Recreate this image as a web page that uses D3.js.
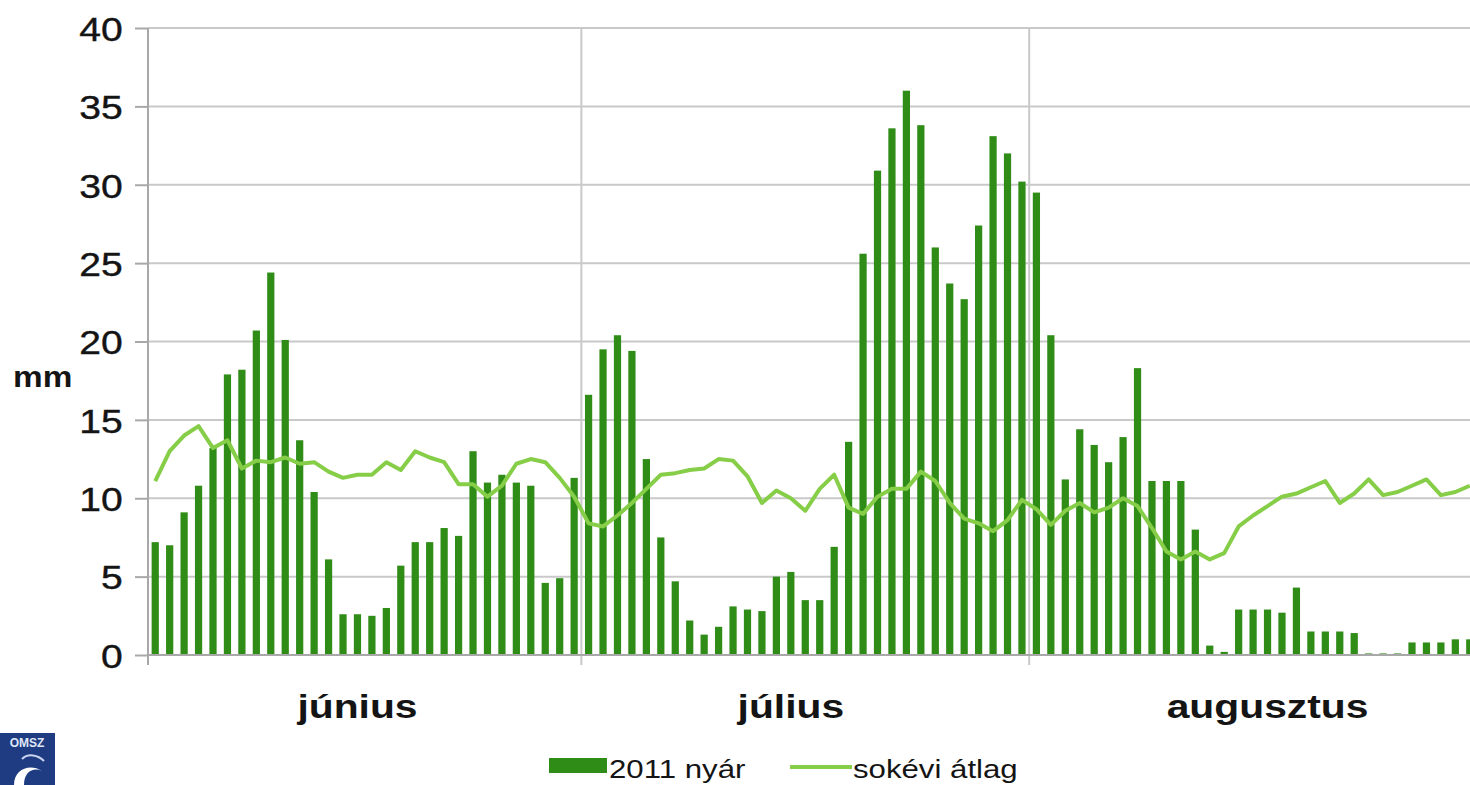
<!DOCTYPE html>
<html>
<head>
<meta charset="utf-8">
<script src="https://cdn.jsdelivr.net/npm/d3@7"></script>
<style>
  body { margin: 0; background: #fff; }
  svg { display: block; font-family: "Liberation Sans", Arial, sans-serif; }
</style>
</head>
<body>
<svg id="chart" width="1470" height="785"></svg>
<script>
// napi csapadek, 2011 nyar vs sokevi atlag (mm)
const months = ['június', 'július', 'augusztus'];
const monthDays = [30, 31, 31];
const labelDay = [15, 15, 17];   // which day of the month the label sits over

const rain2011 = [
  // junius
  7.2, 7.0, 9.1, 10.8, 13.2, 17.9, 18.2, 20.7, 24.4, 20.1,
  13.7, 10.4, 6.1, 2.6, 2.6, 2.5, 3.0, 5.7, 7.2, 7.2,
  8.1, 7.6, 13.0, 11.0, 11.5, 11.0, 10.8, 4.6, 4.9, 11.3,
  // julius
  16.6, 19.5, 20.4, 19.4, 12.5, 7.5, 4.7, 2.2, 1.3, 1.8,
  3.1, 2.9, 2.8, 5.0, 5.3, 3.5, 3.5, 6.9, 13.6, 25.6,
  30.9, 33.6, 36.0, 33.8, 26.0, 23.7, 22.7, 27.4, 33.1, 32.0, 30.2,
  // augusztus
  29.5, 20.4, 11.2, 14.4, 13.4, 12.3, 13.9, 18.3, 11.1, 11.1,
  11.1, 8.0, 0.6, 0.2, 2.9, 2.9, 2.9, 2.7, 4.3, 1.5,
  1.5, 1.5, 1.4, 0.1, 0.1, 0.1, 0.8, 0.8, 0.8, 1.0, 1.0
];

const avgRain = [
  11.1, 13.0, 14.0, 14.6, 13.2, 13.7, 11.9, 12.4, 12.3, 12.6,
  12.2, 12.3, 11.7, 11.3, 11.5, 11.5, 12.3, 11.8, 13.0, 12.6,
  12.3, 10.9, 10.9, 10.1, 10.8, 12.2, 12.5, 12.3, 11.3, 10.1,
  8.4, 8.2, 8.9, 9.7, 10.6, 11.5, 11.6, 11.8, 11.9, 12.5,
  12.4, 11.4, 9.7, 10.5, 10.0, 9.2, 10.6, 11.5, 9.4, 9.0,
  10.1, 10.6, 10.6, 11.7, 11.1, 9.7, 8.7, 8.4, 7.9, 8.6, 9.9,
  9.3, 8.3, 9.2, 9.7, 9.1, 9.4, 10.0, 9.5, 8.1, 6.6,
  6.1, 6.6, 6.1, 6.5, 8.2, 8.9, 9.5, 10.1, 10.3, 10.7,
  11.1, 9.7, 10.3, 11.2, 10.2, 10.4, 10.8, 11.2, 10.2, 10.4, 10.8
];

const yTicks = [0, 5, 10, 15, 20, 25, 30, 35, 40];
const legendNames = ['2011 nyár', 'sokévi átlag'];

const barColor = '#2f8c17';
const lineColor = '#86cd48';
const gridColor = '#c9c9c9';
const axisColor = '#a8a8a8';
const textColor = '#141414';

const svg = d3.select('#chart');
const plotLeft = 148, plotTop = 28, plotBottom = 655, plotRight = 1477;

let days = d3.range(rain2011.length);

let x = d3.scaleBand()
  .domain(days)
  .range([plotLeft, plotRight])
  .paddingInner(0.5)
  .paddingOuter(0.25);

let step = x.step();
let dayCenter = i => x(i) + x.bandwidth() / 2;

let y = d3.scaleLinear().domain([0, 40]).range([plotBottom, plotTop]);

// month boundaries (day index where each month starts)
let monthStart = monthDays.map((d, i) => d3.sum(monthDays.slice(0, i)));

// horizontal grid
svg.append('g')
  .selectAll('line')
  .data(yTicks.filter(d => d > 0))
  .join('line')
  .attr('x1', plotLeft).attr('x2', 1470)
  .attr('y1', d => y(d)).attr('y2', d => y(d))
  .attr('stroke', gridColor)
  .attr('stroke-width', 2);

// vertical month dividers
svg.append('g')
  .selectAll('line')
  .data(monthStart)
  .join('line')
  .attr('x1', d => plotLeft + d * step).attr('x2', d => plotLeft + d * step)
  .attr('y1', plotTop).attr('y2', plotBottom + 10)
  .attr('stroke', d => d === 0 ? axisColor : gridColor)
  .attr('stroke-width', 2);

// bars
svg.append('g')
  .selectAll('rect')
  .data(rain2011)
  .join('rect')
  .attr('x', (d, i) => x(i))
  .attr('y', d => y(d))
  .attr('width', x.bandwidth())
  .attr('height', d => y(0) - y(d))
  .attr('fill', barColor);

// long-term average line
let line = d3.line()
  .x((d, i) => dayCenter(i))
  .y(d => y(d));

svg.append('path')
  .datum(avgRain)
  .attr('d', line)
  .attr('fill', 'none')
  .attr('stroke', lineColor)
  .attr('stroke-width', 4)
  .attr('stroke-linejoin', 'round');

// y axis
let yAxis = svg.append('g')
  .attr('transform', `translate(${plotLeft},0)`)
  .call(d3.axisLeft(y).tickValues(yTicks).tickSize(13).tickPadding(9));

yAxis.select('.domain')
  .attr('d', `M0,${plotTop}V${plotBottom + 10}`)
  .attr('stroke', axisColor)
  .attr('stroke-width', 2);
yAxis.selectAll('.tick line').attr('stroke', axisColor).attr('stroke-width', 2);
yAxis.selectAll('.tick text')
  .attr('transform', 'scale(1.15,1)')
  .attr('dy', '0.36em')
  .attr('fill', textColor)
  .attr('stroke', textColor)
  .attr('stroke-width', 0.4)
  .style('font-size', '34px');

// x axis base line
svg.append('line')
  .attr('x1', plotLeft).attr('x2', 1470)
  .attr('y1', plotBottom).attr('y2', plotBottom)
  .attr('stroke', axisColor)
  .attr('stroke-width', 2);

// month labels
svg.append('g')
  .selectAll('text')
  .data(months)
  .join('text')
  .attr('transform', (d, i) => `translate(${dayCenter(monthStart[i] + labelDay[i] - 1)},718) scale(1.2,1)`)
  .attr('text-anchor', 'middle')
  .attr('font-weight', 'bold')
  .attr('font-size', 34)
  .attr('fill', textColor)
  .text(d => d);

// unit label
svg.append('text')
  .attr('transform', 'translate(13,387) scale(1.15,1)')
  .attr('font-weight', 'bold')
  .attr('font-size', 29)
  .attr('fill', textColor)
  .text('mm');

// legend
let legend = svg.append('g');
legend.append('rect')
  .attr('x', 549).attr('y', 758)
  .attr('width', 58).attr('height', 15)
  .attr('fill', barColor);
legend.append('text')
  .attr('transform', 'translate(609,778) scale(1.2,1)')
  .attr('font-size', 26)
  .attr('fill', textColor)
  .text(legendNames[0]);
legend.append('line')
  .attr('x1', 790).attr('x2', 852)
  .attr('y1', 767).attr('y2', 767)
  .attr('stroke', lineColor)
  .attr('stroke-width', 4);
legend.append('text')
  .attr('transform', 'translate(853,778) scale(1.2,1)')
  .attr('font-size', 26)
  .attr('fill', textColor)
  .text(legendNames[1]);

// OMSZ logo in the corner
let logo = svg.append('g').attr('transform', 'translate(0,733)');
logo.append('rect')
  .attr('width', 55).attr('height', 52)
  .attr('fill', '#1f3c82');
logo.append('text')
  .attr('x', 27).attr('y', 14)
  .attr('text-anchor', 'middle')
  .attr('font-size', 12)
  .attr('font-weight', 'bold')
  .attr('fill', '#dfe6f5')
  .text('OMSZ');
logo.append('path')
  .attr('d', 'M14,52 C14,36 30,30 42,38 C34,34 24,38 24,52 Z')
  .attr('fill', '#ffffff');
logo.append('path')
  .attr('d', 'M22,26 C28,20 38,22 44,28')
  .attr('fill', 'none')
  .attr('stroke', '#c9d4ee')
  .attr('stroke-width', 2);
</script>
</body>
</html>
